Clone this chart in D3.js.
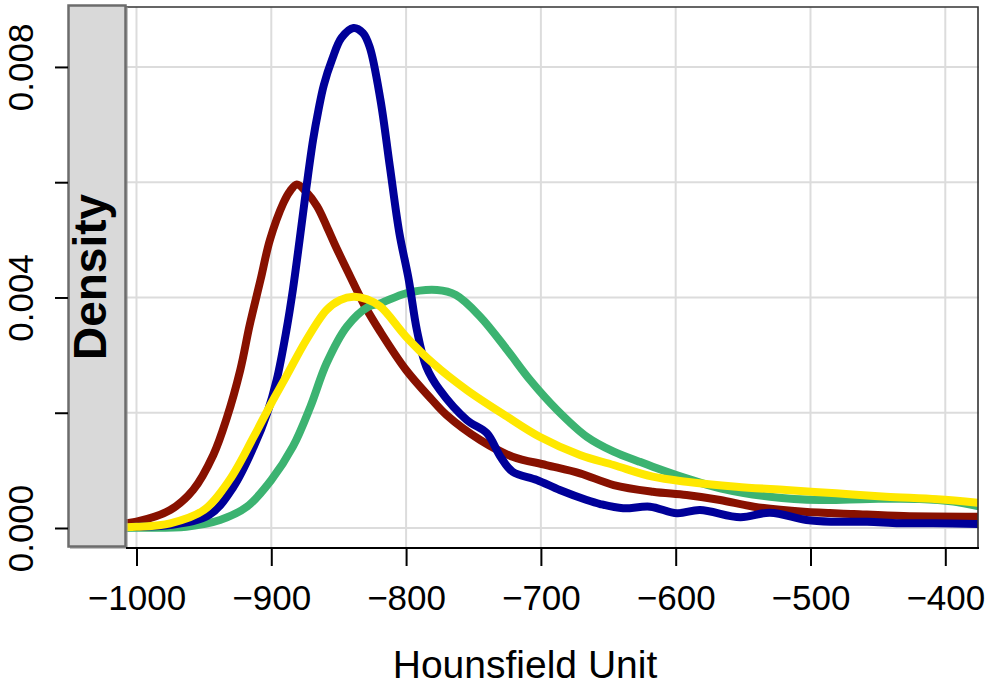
<!DOCTYPE html>
<html><head><meta charset="utf-8">
<script src="https://cdn.jsdelivr.net/npm/d3@7"></script>
<style>html,body{margin:0;padding:0;background:#fff;} svg{display:block;}</style>
</head><body>
<svg id="chart" width="986" height="697"></svg>
<script>
// ---- data ----
const xTicks = [-1000, -900, -800, -700, -600, -500, -400];
const yTicks = [0, 0.002, 0.004, 0.006, 0.008];
const yLabels = [0, 0.004, 0.008];
const xTitle = "Hounsfield Unit";
const yTitle = "Density";

const redHU  = [-1050,-1025,-1007,-1000,-975,-958,-943,-933,-923,-916,-908,-901,-891,-886,-881,-874,-866,-859,-852,-842,-831,-819,-800,-782,-770,-745,-721,-696,-671,-646,-617,-592,-567,-542,-505,-468,-431,-376];
const redDen = [0.00002,0.00005,0.000087,0.000109,0.000312,0.000659,0.001267,0.001909,0.002742,0.003523,0.004304,0.004998,0.005640,0.005848,0.005960,0.005830,0.005580,0.005241,0.004876,0.004390,0.003870,0.003401,0.002742,0.002256,0.001961,0.001527,0.001237,0.001093,0.000949,0.000746,0.000630,0.000573,0.000486,0.000370,0.000283,0.000243,0.000208,0.000196];

const greenHU  = [-1050,-1025,-1000,-963,-938,-918,-900,-884,-871,-859,-844,-828,-819,-800,-777,-763,-745,-725,-708,-688,-666,-646,-627,-617,-592,-567,-530,-493,-456,-419,-394,-376];
const greenDen = [0.0,0.000001,0.000005,0.000023,0.000139,0.000370,0.000833,0.001411,0.002105,0.002858,0.003493,0.003840,0.003899,0.004073,0.004130,0.004043,0.003667,0.003089,0.002568,0.002048,0.001584,0.001324,0.001151,0.001064,0.000862,0.000689,0.000543,0.000486,0.000505,0.000505,0.000460,0.000382];

const blueHU  = [-1050,-1020,-1000,-975,-946,-928,-913,-903,-896,-889,-884,-879,-874,-869,-865,-861,-855,-848,-839,-832,-827,-819,-812,-805,-798,-792,-785,-775,-755,-740,-730,-721,-703,-686,-666,-656,-639,-619,-599,-582,-552,-530,-503,-483,-458,-434,-409,-376];
const blueDen = [0.000002,0.00001,0.000023,0.000052,0.000226,0.000717,0.001411,0.001996,0.002568,0.003401,0.004130,0.004998,0.005900,0.006733,0.007254,0.007688,0.008121,0.008503,0.008677,0.008590,0.008347,0.007427,0.006265,0.005119,0.004304,0.003436,0.002799,0.002395,0.001874,0.001643,0.001237,0.000977,0.000833,0.000659,0.000486,0.000416,0.000342,0.000370,0.000255,0.000312,0.000186,0.000266,0.000139,0.000109,0.000109,0.000082,0.000082,0.000069];

const yellowHU  = [-1050,-1025,-1000,-975,-950,-931,-913,-900,-889,-874,-859,-849,-839,-829,-819,-800,-780,-755,-725,-701,-671,-646,-617,-592,-555,-518,-481,-444,-406,-376];
const yellowDen = [0.000001,0.000005,0.00002,0.000082,0.000312,0.000833,0.001584,0.002164,0.002626,0.003262,0.003783,0.003955,0.004014,0.003969,0.003840,0.003320,0.002858,0.002395,0.001931,0.001584,0.001267,0.001093,0.000890,0.000803,0.000717,0.000659,0.000602,0.000543,0.000498,0.000439];

const seriesNames  = ["red", "green", "blue", "yellow"];
const seriesColors = ["#881100", "#3cb371", "#000099", "#ffe800"];
const seriesData = [[redHU, redDen], [greenHU, greenDen], [blueHU, blueDen], [yellowHU, yellowDen]];

// ---- layout ----
const L = 68, R = 979, T = 7, B = 548;
const svg = d3.select("#chart");
const x = d3.scaleLinear().domain([-1050.8, -375]).range([L, R]);
const y = d3.scaleLinear().domain([-0.000347, 0.00904]).range([B, T]);
const font = "'Liberation Sans', Arial, Helvetica, sans-serif";

// grid
const grid = svg.append("g");
grid.selectAll("line.v").data(xTicks).join("line")
  .attr("x1", d => x(d)).attr("x2", d => x(d)).attr("y1", T).attr("y2", B)
  .attr("stroke", "#dcdcdc").attr("stroke-width", 2);
grid.selectAll("line.h").data(yTicks).join("line")
  .attr("x1", L).attr("x2", R).attr("y1", d => y(d)).attr("y2", d => y(d))
  .attr("stroke", "#dcdcdc").attr("stroke-width", 2);

// curves
svg.append("clipPath").attr("id", "clip").append("rect")
  .attr("x", L).attr("y", T).attr("width", R - L - 1).attr("height", B - T);
const line = d3.line().x(d => x(d[0])).y(d => y(d[1])).curve(d3.curveCatmullRom.alpha(0.5));
const curves = svg.append("g").attr("clip-path", "url(#clip)");
seriesData.forEach((s, i) => {
  const pts = s[0].map((h, j) => [h, s[1][j]]);
  curves.append("path").datum(pts).attr("d", line)
    .attr("fill", "none").attr("stroke", seriesColors[i]).attr("stroke-width", 8)
    .attr("stroke-linejoin", "round").attr("stroke-linecap", "round")
    .attr("class", "series-" + seriesNames[i]);
});

// border (top, right)
svg.append("path")
  .attr("d", `M126,${T}H${R - 1}V${B}`)
  .attr("fill", "none").attr("stroke", "#333").attr("stroke-width", 1.6);

// gray strip with label
svg.append("rect").attr("x", 70).attr("y", 7).attr("width", 58).attr("height", 542)
  .attr("fill", "#9a9a9a").attr("opacity", 0.6);
svg.append("rect").attr("x", 68.5).attr("y", 5.5).attr("width", 57).attr("height", 541)
  .attr("fill", "#d9d9d9").attr("stroke", "#6c6c6c").attr("stroke-width", 2.5);
svg.append("text")
  .attr("transform", `translate(106,277) rotate(-90)`)
  .attr("text-anchor", "middle")
  .style("font-family", font).style("font-weight", "bold").style("font-size", "46px")
  .attr("fill", "#000").text(yTitle);

// x axis
const gx = svg.append("g").attr("transform", `translate(0,${B})`)
  .call(d3.axisBottom(x).tickValues(xTicks).tickSize(18).tickFormat(d3.format("d")));
gx.select(".domain").remove();
gx.selectAll(".tick line").attr("stroke", "#000").attr("stroke-width", 2);
gx.selectAll(".tick text").attr("y", 62).attr("dy", 0)
  .style("font-family", font).style("font-size", "35px").attr("fill", "#000");
svg.append("line").attr("x1", 126).attr("x2", R).attr("y1", B).attr("y2", B)
  .attr("stroke", "#000").attr("stroke-width", 2);

// y axis
const gy = svg.append("g").attr("transform", `translate(${L},0)`)
  .call(d3.axisLeft(y).tickValues(yTicks).tickSize(13)
    .tickFormat(d => yLabels.includes(d) ? d3.format(".3f")(d) : ""));
gy.select(".domain").remove();
gy.selectAll(".tick line").attr("stroke", "#000").attr("stroke-width", 2);
gy.selectAll(".tick text").attr("transform", "rotate(-90)")
  .attr("x", 0).attr("y", -35).attr("dy", 0).attr("text-anchor", "middle")
  .style("font-family", font).style("font-size", "35px").attr("fill", "#000");

// x title
svg.append("text").attr("x", 525).attr("y", 678).attr("text-anchor", "middle")
  .style("font-family", font).style("font-size", "39px").attr("fill", "#000").text(xTitle);
</script>
</body></html>
